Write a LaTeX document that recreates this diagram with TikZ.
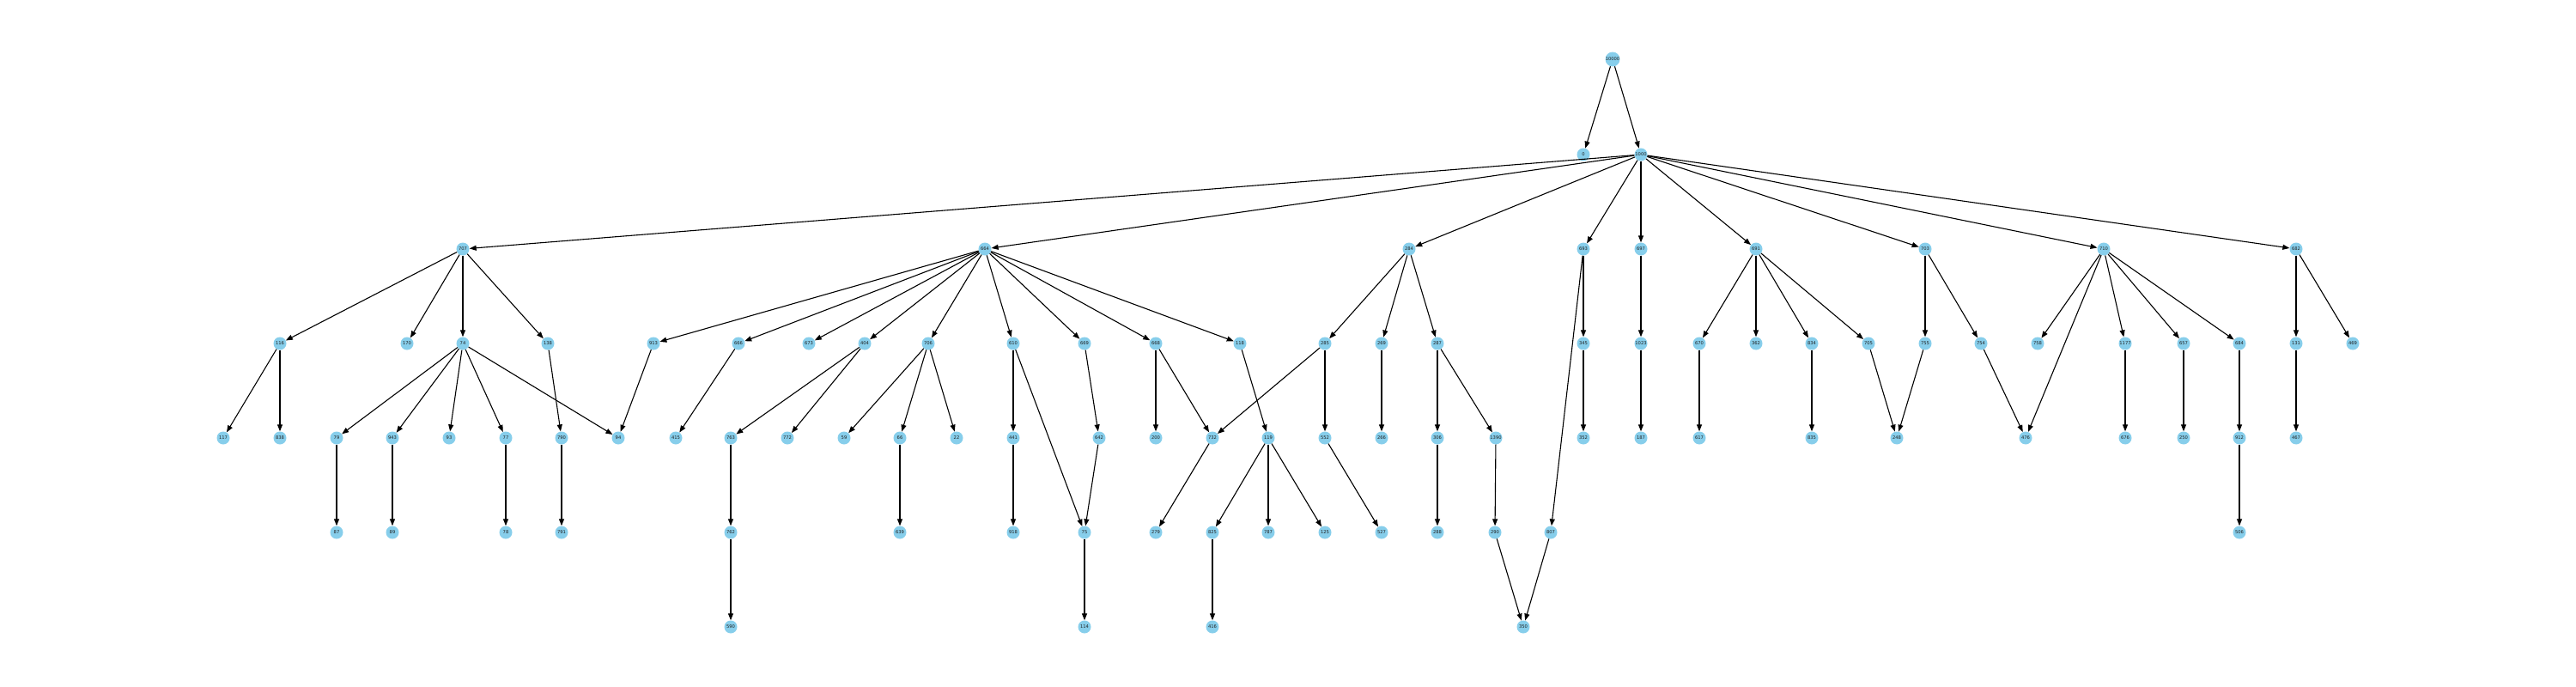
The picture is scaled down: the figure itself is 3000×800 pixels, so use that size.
\documentclass[tikz,border=0pt]{standalone}
\usepackage{fontspec}
\setmainfont{DejaVu Sans}
\usetikzlibrary{arrows.meta}
\definecolor{nodeblue}{HTML}{87CEEB}
\definecolor{labelgray}{HTML}{202020}
\tikzset{
  vtx/.style={circle, fill=nodeblue, draw=none, minimum size=15pt, inner sep=0pt,
    font=\fontsize{5.2}{5.2}\selectfont, text=labelgray},
  edge/.style={draw=black, line width=1.1pt, -{Triangle[length=8pt,width=6pt]}}
}
\begin{document}
\begin{tikzpicture}[x=1pt,y=-1pt]
\useasboundingbox (0,0) rectangle (3000,800);
% row 0
\node[vtx] (n10000) at (1878,69) {10000};
% row 1
\node[vtx] (n0) at (1844,180) {0};
\node[vtx] (n1000) at (1911,180) {1000};
% row 2
\foreach \lab/\x in {707/539,664/1147,284/1641,693/1844,697/1911,691/2045,703/2242,710/2450,682/2674}
  \node[vtx] (n\lab) at (\x,290) {\lab};
% row 3
\foreach \lab/\x in {116/326,170/474,74/539,138/638,913/761,666/860,673/942,404/1007,706/1081,610/1180,669/1263,668/1346,118/1444,285/1543,269/1609,287/1674,345/1844,1023/1911,670/1979,362/2045,834/2110,705/2176,755/2242,754/2307,758/2373,1177/2475,657/2543,684/2608,131/2674,469/2740}
  \node[vtx] (n\lab) at (\x,400) {\lab};
% row 4
\foreach \lab/\x in {117/260,838/326,79/392,943/457,93/523,77/589,790/654,94/720,415/787,763/851,772/917,59/983,66/1048,22/1114,441/1180,642/1280,200/1346,732/1412,119/1477,552/1543,266/1609,306/1674,1390/1742,352/1844,187/1911,617/1979,835/2110,248/2209,476/2359,676/2475,250/2543,912/2608,467/2674}
  \node[vtx] (n\lab) at (\x,510) {\lab};
% row 5
\foreach \lab/\x in {87/392,89/457,78/589,791/654,762/851,639/1048,918/1180,75/1263,279/1346,825/1412,787/1477,125/1543,527/1609,288/1674,290/1741,807/1806,506/2608}
  \node[vtx] (n\lab) at (\x,620) {\lab};
% row 6
\foreach \lab/\x in {590/851,114/1263,416/1412,350/1774}
  \node[vtx] (n\lab) at (\x,730) {\lab};
% edges
\foreach \a/\b in {10000/0,10000/1000,
  1000/707,1000/664,1000/284,1000/693,1000/697,1000/691,1000/703,1000/710,1000/682,
  707/116,707/170,707/74,707/138,
  116/117,116/838,
  74/79,74/943,74/93,74/77,74/94,
  138/790,79/87,943/89,77/78,790/791,
  664/913,664/666,664/673,664/404,664/706,664/610,664/669,664/668,664/118,
  913/94,666/415,404/763,404/772,706/59,706/66,706/22,610/441,610/75,
  763/762,762/590,66/639,441/918,669/642,642/75,668/200,668/732,118/119,
  75/114,732/279,119/825,119/787,119/125,825/416,
  284/285,284/269,284/287,285/732,285/552,552/527,269/266,287/306,287/1390,
  306/288,1390/290,290/350,
  693/345,693/807,807/350,345/352,697/1023,1023/187,
  691/670,691/362,691/834,691/705,670/617,834/835,705/248,
  703/755,703/754,755/248,754/476,
  710/758,710/476,710/1177,710/657,710/684,1177/676,657/250,684/912,912/506,
  682/131,682/469,131/467}
  \draw[edge] (n\a) -- (n\b);
\end{tikzpicture}
\end{document}
